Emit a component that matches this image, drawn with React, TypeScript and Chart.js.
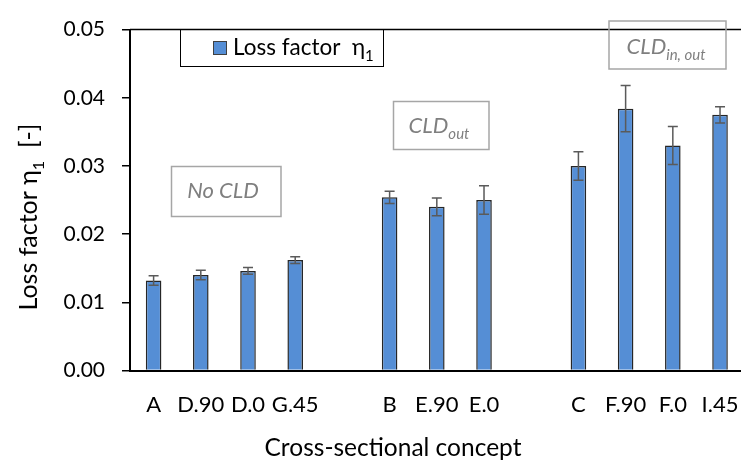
import React, { useEffect, useRef } from "react";
import { Chart, registerables } from "chart.js";

Chart.register(...registerables);

const categories = ["A", "D.90", "D.0", "G.45", "", "B", "E.90", "E.0", "", "C", "F.90", "F.0", "I.45"];
const lossFactor = [0.0132, 0.014, 0.0146, 0.0162, null, 0.0254, 0.024, 0.025, null, 0.03, 0.0384, 0.033, 0.0375];
const lossError = [0.0007, 0.0007, 0.0005, 0.0005, null, 0.0009, 0.0013, 0.0021, null, 0.0021, 0.0034, 0.0028, 0.0012];
const yMin = 0;
const yMax = 0.05;
const yStep = 0.01;

const FONT = "Lato, 'Open Sans', sans-serif";
const BAR_FILL = "#558ED5";
const ERR_COLOR = "#5a5a5a";
const NOTE_TEXT = "#7f7f7f";
const NOTE_BORDER = "#a6a6a6";

const errorBarPlugin = {
  id: "errorBars",
  afterDatasetsDraw(chart: any) {
    const meta = chart.getDatasetMeta(0);
    const y = chart.scales.y;
    const ctx = chart.ctx;
    ctx.save();
    ctx.strokeStyle = ERR_COLOR;
    ctx.lineWidth = 1.5;
    lossFactor.forEach((v, i) => {
      const e = lossError[i];
      if (v == null || e == null) return;
      const el = meta.data[i];
      const x = el.x;
      const yHi = y.getPixelForValue(v + e);
      const yLo = y.getPixelForValue(v - e);
      const cap = 5;
      ctx.beginPath();
      ctx.moveTo(x, yHi);
      ctx.lineTo(x, yLo);
      ctx.moveTo(x - cap, yHi);
      ctx.lineTo(x + cap, yHi);
      ctx.moveTo(x - cap, yLo);
      ctx.lineTo(x + cap, yLo);
      ctx.stroke();
    });
    ctx.restore();
  },
};

function drawSubText(ctx: any, parts: { t: string; sub?: boolean }[], x: number, baseline: number, size: number, subSize: number, style: string, align: "left" | "center") {
  const widths = parts.map((p) => {
    ctx.font = `${style} ${p.sub ? subSize : size}px ${FONT}`;
    return ctx.measureText(p.t).width;
  });
  const total = widths.reduce((a, b) => a + b, 0);
  let cx = align === "center" ? x - total / 2 : x;
  ctx.textAlign = "left";
  ctx.textBaseline = "alphabetic";
  parts.forEach((p, i) => {
    ctx.font = `${style} ${p.sub ? subSize : size}px ${FONT}`;
    ctx.fillText(p.t, cx, p.sub ? baseline + size * 0.28 : baseline);
    cx += widths[i];
  });
}

const decorPlugin = {
  id: "decor",
  afterDraw(chart: any) {
    const ctx = chart.ctx;
    const area = chart.chartArea;
    ctx.save();

    // top frame line
    ctx.strokeStyle = "#000";
    ctx.lineWidth = 1.5;
    ctx.beginPath();
    ctx.moveTo(area.left, area.top);
    ctx.lineTo(area.right, area.top);
    ctx.stroke();

    // legend
    ctx.lineWidth = 1;
    ctx.strokeStyle = "#000";
    ctx.strokeRect(180.5, 29.5, 203, 37);
    ctx.fillStyle = BAR_FILL;
    ctx.fillRect(213, 41, 14, 14);
    ctx.strokeStyle = "#404040";
    ctx.strokeRect(213.5, 41.5, 13, 13);
    ctx.fillStyle = "#000";
    drawSubText(ctx, [{ t: "Loss factor  η" }, { t: "1", sub: true }], 233, 55, 22.5, 15, "normal", "left");

    // note boxes
    ctx.strokeStyle = NOTE_BORDER;
    ctx.lineWidth = 1.5;
    ctx.strokeRect(171.5, 166.5, 109.5, 50);
    ctx.strokeRect(393.5, 101.5, 95.5, 48);
    ctx.strokeRect(609, 21, 117, 48);
    ctx.fillStyle = NOTE_TEXT;
    drawSubText(ctx, [{ t: "No CLD" }], 223, 198, 22, 14, "italic", "center");
    drawSubText(ctx, [{ t: "CLD" }, { t: "out", sub: true }], 439, 133, 22, 15, "italic", "center");
    drawSubText(ctx, [{ t: "CLD" }, { t: "in, out", sub: true }], 666, 54, 22, 15, "italic", "center");

    // y axis title
    ctx.fillStyle = "#000";
    ctx.save();
    ctx.translate(37, 217);
    ctx.rotate(-Math.PI / 2);
    drawSubText(ctx, [{ t: "Loss factor η" }, { t: "1", sub: true }, { t: "  [-]" }], 0, 0, 25, 16, "normal", "center");
    ctx.restore();

    // x axis title
    drawSubText(ctx, [{ t: "Cross-sectional concept" }], 393, 456, 24.5, 15, "normal", "center");

    ctx.restore();
  },
};

export default function App() {
  const ref = useRef<HTMLCanvasElement | null>(null);
  useEffect(() => {
    if (!ref.current) return;
    const chart = new Chart(ref.current, {
      type: "bar",
      data: {
        labels: categories,
        datasets: [
          {
            label: "Loss factor η1",
            data: lossFactor as any,
            backgroundColor: BAR_FILL,
            borderColor: "#262626",
            borderWidth: 1.5,
            categoryPercentage: 1,
            barPercentage: 0.33,
          },
        ],
      },
      options: {
        responsive: false,
        animation: false,
        events: [],
        layout: { padding: { left: 0, right: 14, top: 15, bottom: 0 } },
        plugins: { legend: { display: false }, tooltip: { enabled: false } },
        scales: {
          x: {
            grid: { display: false, drawTicks: false },
            border: { display: true, color: "#000", width: 2 },
            ticks: { color: "#000", font: { family: FONT, size: 22 }, padding: 21, autoSkip: false, maxRotation: 0 },
            afterFit(scale: any) {
              scale.height = 91.5;
            },
          },
          y: {
            min: yMin,
            max: yMax,
            grid: { drawOnChartArea: false, drawTicks: true, tickLength: 8, color: "#000", lineWidth: 1.5 },
            border: { display: true, color: "#000", width: 2 },
            ticks: {
              stepSize: yStep,
              color: "#000",
              font: { family: FONT, size: 21 },
              padding: 17,
              callback: (v: any) => Number(v).toFixed(2),
            },
            afterFit(scale: any) {
              scale.width = 130;
            },
          },
        },
      },
      plugins: [errorBarPlugin, decorPlugin],
    });
    return () => chart.destroy();
  }, []);
  return (
    <div style={{ position: "fixed", left: 0, top: 0, width: 741, height: 462, overflow: "hidden", background: "#fff" }}>
      <canvas ref={ref} width={760} height={462} style={{ width: 760, height: 462, display: "block" }} />
    </div>
  );
}
